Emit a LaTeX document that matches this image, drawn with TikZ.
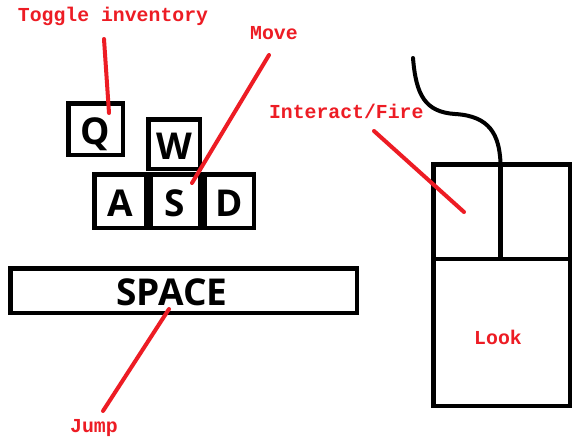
\documentclass[tikz,border=0pt]{standalone}
\usepackage{fontspec}
\newfontfamily\keyfont{Open Sans}[BoldFont={* Bold}]
\newfontfamily\lblfont{Liberation Mono}
\definecolor{paintred}{RGB}{237,28,36}
\begin{document}
\begin{tikzpicture}[x=1pt,y=-1pt,
  keybox/.style={draw=black, line width=4.5pt, inner sep=0pt, fill=white,
    font=\keyfont\bfseries\fontsize{37}{40}\selectfont, text height=30pt, text depth=0pt},
  lbl/.style={text=paintred, font=\lblfont\bfseries\fontsize{19.8}{22}\selectfont, anchor=base, inner sep=0pt},
  pointer/.style={draw=paintred, line width=4pt, line cap=round},
  outline/.style={draw=black, line width=4.5pt},
  cable/.style={draw=black, line width=4pt, line cap=round}]
\useasboundingbox[fill=white] (0,0) rectangle (584,440);

% keys
\node[keybox, minimum width=54.5pt, minimum height=51.5pt] (q) at (95.5,129) {Q};
\node[keybox, minimum width=51.5pt, minimum height=49.5pt] (w) at (174,144) {W};
\node[keybox, minimum width=51.5pt, minimum height=53.5pt] (a) at (120,201) {A};
\node[keybox, minimum width=49.5pt, minimum height=53.5pt] (s) at (175,201) {S};
\node[keybox, minimum width=49.5pt, minimum height=53.5pt] (d) at (229,201) {D};
\node[keybox, minimum width=346.5pt, minimum height=44.5pt] (space) at (183.5,290.5) {};
\node[font=\keyfont\bfseries\fontsize{37}{40}\selectfont, inner sep=0pt] (spacetxt) at (172,292) {SPACE};

% mouse
\node[outline, minimum width=136.5pt, minimum height=241.5pt, inner sep=0pt] (mouse) at (501.5,285) {};
\coordinate (divy) at (0,259);
\coordinate (divx) at (500.5,0);
\draw[outline] (mouse.west |- divy) -- (mouse.east |- divy);
\draw[outline] (divx |- mouse.north) -- (divx |- divy);
\coordinate (cableend) at (413,58);
\draw[cable] (divx |- mouse.north) .. controls (499,135) and (490,116) .. (455,114)
  .. controls (425,112) and (416,95) .. (cableend);

% labels
\node[lbl] (ltoggle) at (113,21.7) {Toggle inventory};
\node[lbl] (lmove) at (274,39) {Move};
\node[lbl] (linteract) at (346.3,118.3) {Interact/Fire};
\node[lbl] (llook) at (498,344) {Look};
\node[lbl] (ljump) at (94,432) {Jump};

% pointer ends
\coordinate (ptoggle) at (104,39);
\coordinate (qend) at (109,113);
\coordinate (pmove) at (269,55);
\coordinate (send) at (192,183);
\coordinate (pinteract) at (374,131);
\coordinate (lbend) at (464,212);
\coordinate (pjump) at (103,411);
\coordinate (spend) at (169,309);

\draw[pointer] (ptoggle) -- (qend);
\draw[pointer] (pmove) -- (send);
\draw[pointer] (pinteract) -- (lbend);
\draw[pointer] (pjump) -- (spend);
\end{tikzpicture}
\end{document}
